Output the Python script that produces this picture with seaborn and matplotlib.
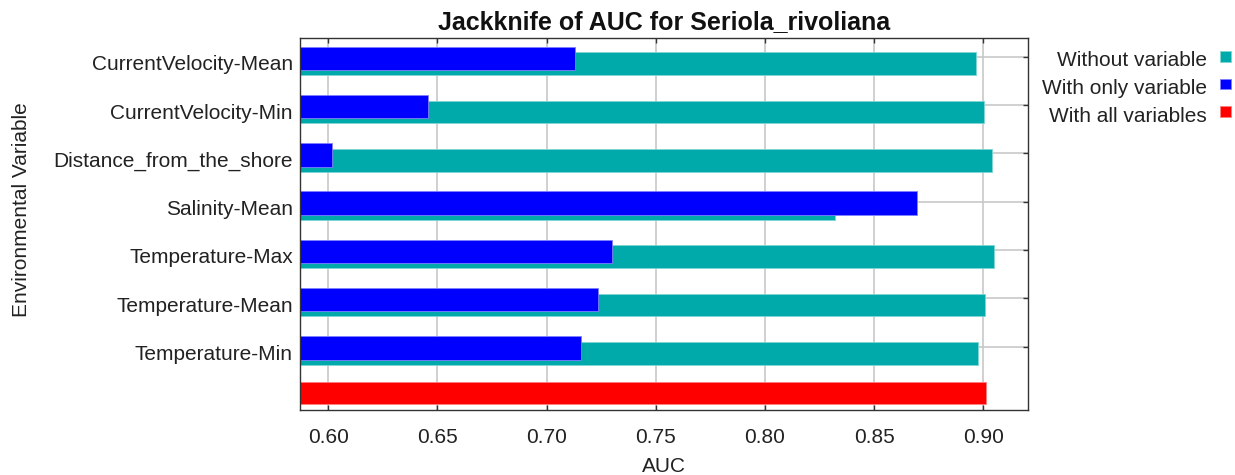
import matplotlib
matplotlib.use("Agg")
import matplotlib.pyplot as plt
import matplotlib.transforms as mtransforms
from matplotlib.patches import Rectangle
import numpy as np
import pandas as pd
import seaborn as sns

# Jackknife results (AUC) per environmental variable
variables = [
    "CurrentVelocity-Mean",
    "CurrentVelocity-Min",
    "Distance_from_the_shore",
    "Salinity-Mean",
    "Temperature-Max",
    "Temperature-Mean",
    "Temperature-Min",
]
auc_without = [0.8966, 0.9005, 0.9040, 0.8319, 0.9049, 0.9007, 0.8974]
auc_only = [0.7130, 0.6456, 0.6016, 0.8698, 0.7298, 0.7233, 0.7158]
auc_all = [0.9011]

x_ticks = [0.60, 0.65, 0.70, 0.75, 0.80, 0.85, 0.90]
legend_labels = ["Without variable", "With only variable", "With all variables"]

TEAL = "#00AAAA"
BLUE = "#0000FF"
RED = "#FF0000"
TEXT = "#222222"

sns.set_theme(style="white")
plt.rcParams["font.family"] = ["Liberation Sans", "DejaVu Sans"]

fig = plt.figure(figsize=(12.35, 4.75), dpi=100)
W, H = 1235, 475
ax_l, ax_r, ax_t, ax_b = 299.7, 1028.3, 38.3, 410.0
ax = fig.add_axes([ax_l / W, 1 - ax_b / H, (ax_r - ax_l) / W, (ax_b - ax_t) / H])

rows = np.arange(len(variables))
df_without = pd.DataFrame({"auc": auc_without, "pos": rows + 0.142})
df_only = pd.DataFrame({"auc": auc_only, "pos": rows + 0.030})
df_all = pd.DataFrame({"auc": auc_all, "pos": [len(variables) - 0.042]})

common = dict(x="auc", y="pos", orient="y", native_scale=True,
              errorbar=None, saturation=1, ax=ax)
sns.barplot(data=df_without, color=TEAL, width=0.47,
            edgecolor="#7fd4d4", linewidth=0.6, **common)
sns.barplot(data=df_only, color=BLUE, width=0.486,
            edgecolor="#7f7fff", linewidth=0.6, **common)
sns.barplot(data=df_all, color=RED, width=0.462,
            edgecolor="#ff8080", linewidth=0.6, **common)

ax.set_xlim(0.5869, 0.9206)
ax.set_ylim(7.313, -0.383)
ax.set_xticks(x_ticks)
ax.set_xticklabels([f"{v:.2f}" for v in x_ticks])
ax.set_yticks(rows)
ax.set_yticklabels(variables)

ax.grid(True, color="#c8c8c8", linewidth=1.2)
ax.set_axisbelow(True)

for s in ax.spines.values():
    s.set_visible(True)
    s.set_color("#333333")
    s.set_linewidth(1.0)

ax.tick_params(axis="x", direction="in", top=True, bottom=True, length=3.6,
               width=1.0, color="#333333", labelsize=15, labelcolor=TEXT, pad=13)
ax.tick_params(axis="y", direction="in", left=False, right=True, length=3.6,
               width=1.0, color="#333333", labelsize=15, labelcolor=TEXT,
               labelleft=True, labelright=False, pad=5)

# category labels sit a little below their grid lines
shift = mtransforms.ScaledTranslation(0, -6 / 100, fig.dpi_scale_trans)
for lab in ax.get_yticklabels():
    lab.set_transform(lab.get_transform() + shift)

ax.set_xlabel("AUC", fontsize=15, color=TEXT, labelpad=7)
ax.set_ylabel("")
fig.text(22 / W, 1 - 210 / H, "Environmental Variable", rotation=90,
         ha="center", va="center", fontsize=15, color=TEXT)
ax.set_title("Jackknife of AUC for Seriola_rivoliana", fontsize=18,
             fontweight="bold", color="#111111", pad=7)

# legend: right-aligned labels followed by colour squares
colors = [TEAL, BLUE, RED]
edges = ["#7fd4d4", "#7f7fff", "#ff8080"]
baselines = [66.5, 94.0, 121.5]
for lab, c, e, yb in zip(legend_labels, colors, edges, baselines):
    fig.text(1207 / W, 1 - yb / H, lab, ha="right", va="baseline",
             fontsize=15, color=TEXT)
    fig.add_artist(Rectangle((1220 / W, 1 - (yb - 5) / H), 10.5 / W, 10.5 / H,
                             transform=fig.transFigure, facecolor=c,
                             edgecolor=e, linewidth=0.6))

fig.savefig("out.png", dpi=100)
